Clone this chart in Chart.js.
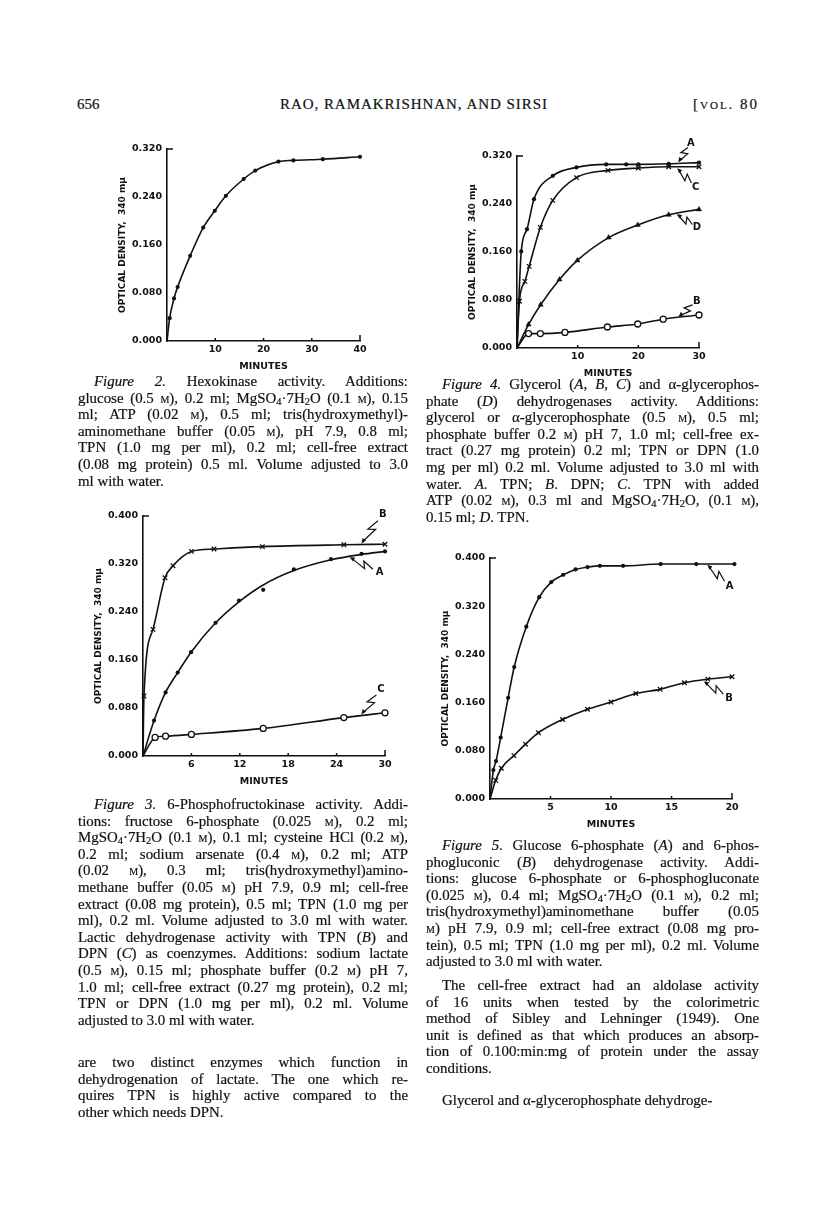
<!DOCTYPE html>
<html>
<head>
<meta charset="utf-8">
<script src="https://cdn.jsdelivr.net/npm/chart.js@4.4.1/dist/chart.umd.min.js"></script>
<style>
body{margin:0;width:816px;height:1222px;position:relative;background:#fff;overflow:hidden;
  font-family:"Liberation Serif",serif;color:#111}
.blk{position:absolute;font-size:14.9px;line-height:16.6px;-webkit-text-stroke:0.2px #111}
.blk div{text-align:justify;text-align-last:justify;white-space:nowrap}
.blk div.last{text-align-last:left}
.ind{padding-left:16px}
.sc{font-variant:small-caps}
sub{font-size:70%;line-height:0;vertical-align:-0.2em}
.hdr{position:absolute;top:96px;font-size:15px;-webkit-text-stroke:0.2px #111}
canvas{position:absolute}
</style>
</head>
<body>

<div class="hdr" style="left:77px">656</div>
<div class="hdr" style="left:280px;letter-spacing:0.95px">RAO, RAMAKRISHNAN, AND SIRSI</div>
<div class="hdr" style="left:693px;letter-spacing:2px">[<span class="sc">vol.</span> 80</div>

<canvas id="fig2"></canvas>
<canvas id="fig4"></canvas>
<canvas id="fig3"></canvas>
<canvas id="fig5"></canvas>

<div class="blk" style="left:78px;top:373px;width:330px">
  <div class="ind"><i>Figure 2.</i> Hexokinase activity. Additions:</div>
  <div>glucose (0.5 <span class="sc">m</span>), 0.2 ml; MgSO<sub>4</sub>·7H<sub>2</sub>O (0.1 <span class="sc">m</span>), 0.15</div>
  <div>ml; ATP (0.02 <span class="sc">m</span>), 0.5 ml; tris(hydroxymethyl)-</div>
  <div>aminomethane buffer (0.05 <span class="sc">m</span>), pH 7.9, 0.8 ml;</div>
  <div>TPN (1.0 mg per ml), 0.2 ml; cell-free extract</div>
  <div>(0.08 mg protein) 0.5 ml. Volume adjusted to 3.0</div>
  <div class="last">ml with water.</div>
</div>

<div class="blk" style="left:426px;top:376px;width:333px">
  <div class="ind"><i>Figure 4.</i> Glycerol (<i>A</i>, <i>B</i>, <i>C</i>) and α-glycerophos-</div>
  <div>phate (<i>D</i>) dehydrogenases activity. Additions:</div>
  <div>glycerol or α-glycerophosphate (0.5 <span class="sc">m</span>), 0.5 ml;</div>
  <div>phosphate buffer 0.2 <span class="sc">m</span>) pH 7, 1.0 ml; cell-free ex-</div>
  <div>tract (0.27 mg protein) 0.2 ml; TPN or DPN (1.0</div>
  <div>mg per ml) 0.2 ml. Volume adjusted to 3.0 ml with</div>
  <div>water. <i>A</i>. TPN; <i>B</i>. DPN; <i>C</i>. TPN with added</div>
  <div>ATP (0.02 <span class="sc">m</span>), 0.3 ml and MgSO<sub>4</sub>·7H<sub>2</sub>O, (0.1 <span class="sc">m</span>),</div>
  <div class="last">0.15 ml; <i>D</i>. TPN.</div>
</div>

<div class="blk" style="left:78px;top:796px;width:330px">
  <div class="ind"><i>Figure 3.</i> 6-Phosphofructokinase activity. Addi-</div>
  <div>tions: fructose 6-phosphate (0.025 <span class="sc">m</span>), 0.2 ml;</div>
  <div>MgSO<sub>4</sub>·7H<sub>2</sub>O (0.1 <span class="sc">m</span>), 0.1 ml; cysteine HCl (0.2 <span class="sc">m</span>),</div>
  <div>0.2 ml; sodium arsenate (0.4 <span class="sc">m</span>), 0.2 ml; ATP</div>
  <div>(0.02 <span class="sc">m</span>), 0.3 ml; tris(hydroxymethyl)amino-</div>
  <div>methane buffer (0.05 <span class="sc">m</span>) pH 7.9, 0.9 ml; cell-free</div>
  <div>extract (0.08 mg protein), 0.5 ml; TPN (1.0 mg per</div>
  <div>ml), 0.2 ml. Volume adjusted to 3.0 ml with water.</div>
  <div>Lactic dehydrogenase activity with TPN (<i>B</i>) and</div>
  <div>DPN (<i>C</i>) as coenzymes. Additions: sodium lactate</div>
  <div>(0.5 <span class="sc">m</span>), 0.15 ml; phosphate buffer (0.2 <span class="sc">m</span>) pH 7,</div>
  <div>1.0 ml; cell-free extract (0.27 mg protein), 0.2 ml;</div>
  <div>TPN or DPN (1.0 mg per ml), 0.2 ml. Volume</div>
  <div class="last">adjusted to 3.0 ml with water.</div>
</div>

<div class="blk" style="left:78px;top:1054px;width:330px">
  <div>are two distinct enzymes which function in</div>
  <div>dehydrogenation of lactate. The one which re-</div>
  <div>quires TPN is highly active compared to the</div>
  <div class="last">other which needs DPN.</div>
</div>

<div class="blk" style="left:426px;top:837px;width:333px">
  <div class="ind"><i>Figure 5.</i> Glucose 6-phosphate (<i>A</i>) and 6-phos-</div>
  <div>phogluconic (<i>B</i>) dehydrogenase activity. Addi-</div>
  <div>tions: glucose 6-phosphate or 6-phosphogluconate</div>
  <div>(0.025 <span class="sc">m</span>), 0.4 ml; MgSO<sub>4</sub>·7H<sub>2</sub>O (0.1 <span class="sc">m</span>), 0.2 ml;</div>
  <div>tris(hydroxymethyl)aminomethane buffer (0.05</div>
  <div><span class="sc">m</span>) pH 7.9, 0.9 ml; cell-free extract (0.08 mg pro-</div>
  <div>tein), 0.5 ml; TPN (1.0 mg per ml), 0.2 ml. Volume</div>
  <div class="last">adjusted to 3.0 ml with water.</div>
</div>

<div class="blk" style="left:426px;top:977px;width:333px">
  <div class="ind">The cell-free extract had an aldolase activity</div>
  <div>of 16 units when tested by the colorimetric</div>
  <div>method of Sibley and Lehninger (1949). One</div>
  <div>unit is defined as that which produces an absorp-</div>
  <div>tion of 0.100:min:mg of protein under the assay</div>
  <div class="last">conditions.</div>
</div>
<div class="blk" style="left:426px;top:1092px;width:333px">
  <div class="ind last">Glycerol and α-glycerophosphate dehydroge-</div>
</div>

<script>
// ---- Figure 2: hexokinase ----
let f2X = [0.55, 1.45, 2.2, 4.8, 7.5, 9.9, 12.2, 15.9, 18.3, 23.1, 26.2, 32.3, 40];
let f2Y = [0.038, 0.071, 0.090, 0.142, 0.189, 0.217, 0.242, 0.270, 0.284, 0.299, 0.301, 0.303, 0.307];
let f2XTicks = [10, 20, 30, 40];

// ---- Figure 4: glycerol / a-glycerophosphate ----
let f4AX = [0.7, 1.65, 2.8, 5.9, 9.8, 14.7, 18, 20, 25, 30];
let f4AY = [0.161, 0.198, 0.248, 0.287, 0.301, 0.306, 0.306, 0.306, 0.307, 0.309];
let f4CX = [0.4, 1.3, 2, 3.85, 5.9, 9.8, 15, 20, 25, 30];
let f4CY = [0.078, 0.111, 0.136, 0.201, 0.246, 0.284, 0.296, 0.300, 0.302, 0.302];
let f4DX = [1.9, 3.9, 7, 9.95, 15.1, 19.9, 25, 30];
let f4DY = [0.039, 0.072, 0.114, 0.146, 0.184, 0.205, 0.222, 0.231];
let f4BX = [1.9, 3.85, 7.9, 14.9, 19.9, 24.1, 30];
let f4BY = [0.024, 0.024, 0.026, 0.035, 0.040, 0.048, 0.055];
let f4XTicks = [10, 20, 30];

// ---- Figure 3: phosphofructokinase / lactic ----
let f3BX = [0.12, 1.24, 2.73, 3.72, 6, 8.8, 14.8, 24.9, 30];
let f3BY = [0.100, 0.211, 0.297, 0.317, 0.341, 0.345, 0.349, 0.352, 0.353];
let f3AX = [1.37, 2.8, 4.3, 5.96, 9, 11.9, 14.9, 18.7, 23.3, 27.1, 30];
let f3AY = [0.059, 0.106, 0.139, 0.173, 0.222, 0.259, 0.277, 0.311, 0.328, 0.337, 0.341];
let f3ACurveY = [0.059, 0.106, 0.139, 0.173, 0.222, 0.257, 0.285, 0.309, 0.327, 0.336, 0.341];
let f3CX = [1.5, 2.8, 6, 14.9, 24.9, 30];
let f3CY = [0.031, 0.033, 0.036, 0.046, 0.064, 0.072];
let f3XTicks = [6, 12, 18, 24, 30];

// ---- Figure 5: G6P / 6PG dehydrogenase ----
let f5AX = [0.28, 0.5, 0.88, 1.5, 2.0, 3.0, 4.07, 5.06, 6.05, 7.07, 8.06, 9.08, 11, 14.1, 17.05, 20.2];
let f5AY = [0.048, 0.063, 0.102, 0.168, 0.219, 0.286, 0.335, 0.360, 0.372, 0.381, 0.385, 0.387, 0.387, 0.390, 0.390, 0.390];
let f5BX = [0.47, 0.94, 1.98, 2.94, 4.0, 6, 8.06, 10, 12.05, 14.06, 16.07, 18, 20];
let f5BY = [0.031, 0.051, 0.072, 0.091, 0.110, 0.132, 0.149, 0.161, 0.175, 0.182, 0.193, 0.199, 0.203];
let f5XTicks = [5, 10, 15, 20];

let yTicks32 = [0, 0.08, 0.16, 0.24, 0.32];
let yLabels32 = ['0.000', '0.080', '0.160', '0.240', '0.320'];
let yTicks40 = [0, 0.08, 0.16, 0.24, 0.32, 0.40];
let yLabels40 = ['0.000', '0.080', '0.160', '0.240', '0.320', '0.400'];

let yTitle = 'OPTICAL DENSITY,  340 m\u03bc';
let xTitle = 'MINUTES';
let ink = '#111';

Chart.defaults.font.family = '"DejaVu Sans", sans-serif';
Chart.defaults.color = ink;

function pts(xs, ys) {
    return xs.map((x, i) => ({x: x, y: ys[i]}));
}

function curve(xs, ys) {
    // fitted curves all start at the origin
    return [{x: 0, y: 0}].concat(pts(xs, ys));
}

function markers(xs, ys, kind) {
    let ds = {data: pts(xs, ys), showLine: false, clip: false, pointStyle: 'circle',
        pointRadius: 2.1, pointBackgroundColor: ink, pointBorderColor: ink, pointBorderWidth: 0};
    if (kind == 'x') {
        ds.pointStyle = 'crossRot'; ds.pointRadius = 3.2; ds.pointBorderWidth = 1.3;
    }
    if (kind == 'o') {
        ds.pointRadius = 3; ds.pointBackgroundColor = '#fff'; ds.pointBorderWidth = 1.3;
    }
    if (kind == 'tri') {
        ds.pointStyle = 'triangle'; ds.pointRadius = 3; ds.pointBorderWidth = 0.5;
    }
    return ds;
}

function line(data) {
    return {data: data, showLine: true, clip: false, pointRadius: 0, borderColor: ink,
        borderWidth: 1.6, cubicInterpolationMode: 'monotone'};
}

// squiggly leader with arrow from the curve to the curve letter,
// plus the small corner ticks of the frame
const leaderPlugin = {
    id: 'leader',
    afterDatasetsDraw(chart, args, opts) {
        let ctx = chart.ctx;
        let xs = chart.scales.x, ys = chart.scales.y, area = chart.chartArea;
        ctx.save();
        ctx.strokeStyle = ink; ctx.fillStyle = ink; ctx.lineWidth = 1.5;
        ctx.beginPath();
        ctx.moveTo(area.left, area.top); ctx.lineTo(area.left + 6, area.top);
        xs.ticks.forEach(t => {
            let px = xs.getPixelForValue(t.value);
            let h = t.value == xs.max ? 6 : 3;
            ctx.moveTo(px, area.bottom); ctx.lineTo(px, area.bottom - h);
        });
        ctx.stroke();
        ctx.restore();

        (opts.items || []).forEach(it => {
            let px = xs.getPixelForValue(it.x);
            let py = ys.getPixelForValue(it.y);
            let len = Math.hypot(it.dx, it.dy);
            let ux = it.dx / len, uy = it.dy / len, nx = -uy, ny = ux;
            let P = (t, o) => [px + it.dx * t + nx * o, py + it.dy * t + ny * o];
            ctx.save();
            ctx.strokeStyle = ink; ctx.fillStyle = ink; ctx.lineWidth = 1.2;
            ctx.beginPath();
            ctx.moveTo(...P(0.1, 0));
            ctx.lineTo(...P(0.56, 3.2));
            ctx.lineTo(...P(0.44, -3.2));
            ctx.lineTo(...P(0.78, 0));
            ctx.stroke();
            ctx.beginPath();
            ctx.moveTo(px + ux, py + uy);
            ctx.lineTo(px + ux * 6 + nx * 2.2, py + uy * 6 + ny * 2.2);
            ctx.lineTo(px + ux * 6 - nx * 2.2, py + uy * 6 - ny * 2.2);
            ctx.closePath();
            ctx.fill();
            ctx.font = 'bold 10px "DejaVu Sans"';
            ctx.textAlign = 'center'; ctx.textBaseline = 'middle';
            ctx.fillText(it.letter, px + it.dx, py + it.dy);
            ctx.restore();
        });
    }
};

function makeChart(id, box, xMax, xTicks, yMax, yTicks, yLabels, datasets, leaders) {
    let padL = 30, yW = 60, padT = 18, padR = 44, xH = 36;
    let cv = document.getElementById(id);
    cv.width = box.r - box.l + padL + yW + padR;
    cv.height = box.b - box.t + padT + xH;
    cv.style.left = (box.l - padL - yW) + 'px';
    cv.style.top = (box.t - padT) + 'px';
    let tickFont = {size: 9.5, weight: 'bold'};
    new Chart(cv, {
        type: 'scatter',
        data: {datasets: datasets},
        options: {
            responsive: false,
            animation: false,
            layout: {padding: {left: padL, top: padT, right: padR, bottom: 0}},
            plugins: {legend: {display: false}, tooltip: {enabled: false}, leader: {items: leaders}},
            scales: {
                x: {
                    type: 'linear', min: 0, max: xMax,
                    afterBuildTicks: s => { s.ticks = xTicks.map(v => ({value: v})); },
                    afterFit: s => { s.height = xH; },
                    grid: {display: false, drawTicks: false},
                    border: {color: ink, width: 1.6},
                    ticks: {font: tickFont, autoSkip: false, maxRotation: 0, padding: 3,
                        callback: v => String(v)},
                    title: {display: true, text: xTitle, font: {size: 9.5, weight: 'bold'},
                        padding: {top: 0, bottom: 4.5}}
                },
                y: {
                    type: 'linear', min: 0, max: yMax,
                    afterBuildTicks: s => { s.ticks = yTicks.map(v => ({value: v})); },
                    afterFit: s => { s.width = yW; },
                    grid: {display: false, drawTicks: false},
                    border: {color: ink, width: 1.6},
                    ticks: {font: tickFont, autoSkip: false, padding: 5,
                        callback: (v, i) => yLabels[i]},
                    title: {display: true, text: yTitle, font: {size: 9, weight: 'bold'},
                        padding: {top: 10.5, bottom: 0}}
                }
            }
        },
        plugins: [leaderPlugin]
    });
}

makeChart('fig2', {l: 167, t: 149, r: 360, b: 341}, 40, f2XTicks, 0.32, yTicks32, yLabels32,
    [markers(f2X, f2Y, 'dot'), line(curve(f2X, f2Y))], []);

makeChart('fig4', {l: 517, t: 156, r: 699, b: 348}, 30, f4XTicks, 0.32, yTicks32, yLabels32,
    [markers(f4AX, f4AY, 'dot'), markers(f4CX, f4CY, 'x'), markers(f4DX, f4DY, 'tri'), markers(f4BX, f4BY, 'o'),
     line(curve(f4AX, f4AY)), line(curve(f4CX, f4CY)), line(curve(f4DX, f4DY)), line(curve(f4BX, f4BY))],
    [{letter: 'A', x: 26.5, y: 0.308, dx: 13, dy: -20},
     {letter: 'C', x: 26.3, y: 0.301, dx: 19, dy: 20},
     {letter: 'D', x: 26.2, y: 0.224, dx: 21, dy: 14},
     {letter: 'B', x: 26.5, y: 0.051, dx: 19, dy: -16}]);

makeChart('fig3', {l: 143, t: 516, r: 385, b: 756}, 30, f3XTicks, 0.40, yTicks40, yLabels40,
    [markers(f3BX, f3BY, 'x'), markers(f3AX, f3AY, 'dot'), markers(f3CX, f3CY, 'o'),
     line(curve(f3BX, f3BY)), line(curve(f3AX, f3ACurveY)), line(curve(f3CX, f3CY))],
    [{letter: 'B', x: 27, y: 0.353, dx: 22, dy: -30},
     {letter: 'A', x: 25.5, y: 0.332, dx: 31, dy: 16},
     {letter: 'C', x: 27, y: 0.068, dx: 20, dy: -26}]);

makeChart('fig5', {l: 490, t: 558, r: 732, b: 799}, 20, f5XTicks, 0.40, yTicks40, yLabels40,
    [markers(f5AX, f5AY, 'dot'), markers(f5BX, f5BY, 'x'),
     line(curve(f5AX, f5AY)), line(curve(f5BX, f5BY))],
    [{letter: 'A', x: 17.9, y: 0.390, dx: 23, dy: 22},
     {letter: 'B', x: 17.6, y: 0.196, dx: 26, dy: 17}]);
</script>
</body>
</html>
